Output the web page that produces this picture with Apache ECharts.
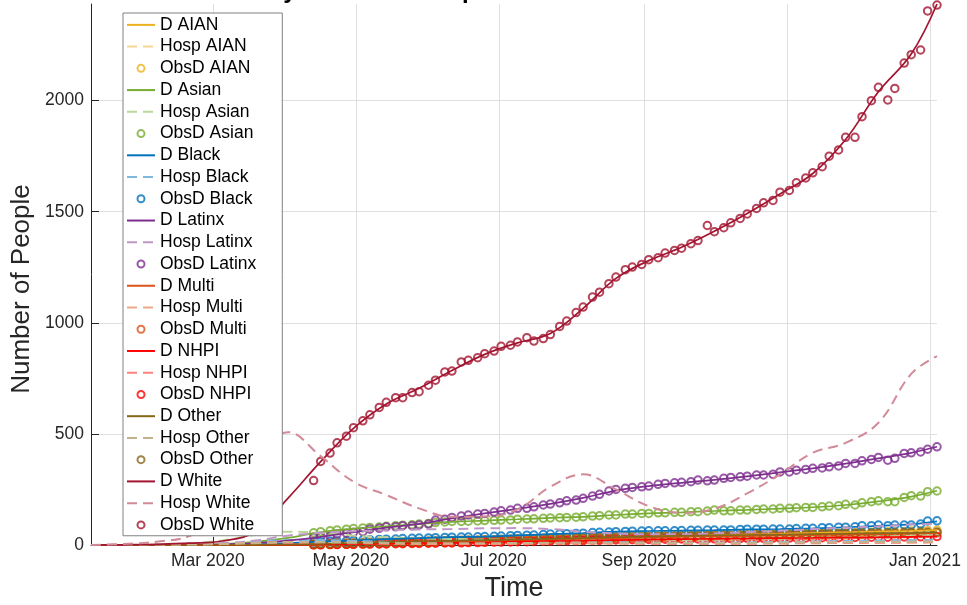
<!DOCTYPE html>
<html>
<head>
<meta charset="utf-8">
<script src="https://cdn.jsdelivr.net/npm/echarts@6/dist/echarts.min.js"></script>
<style>
  html, body { margin: 0; padding: 0; background: #ffffff; }
  #chart { width: 967px; height: 605px; }
</style>
</head>
<body>
<div id="chart"></div>
<script>
// ---- data ---------------------------------------------------------------
const groups = ['AIAN', 'Asian', 'Black', 'Latinx', 'Multi', 'NHPI', 'Other', 'White'];

// fitted-model sampling dates (D and Hosp curves)
const modelDates = [
  '2020-01-09', '2020-01-23', '2020-02-06', '2020-02-20', '2020-03-05', '2020-03-19',
  '2020-04-02', '2020-04-16', '2020-04-30', '2020-05-14', '2020-05-28', '2020-06-11',
  '2020-06-25', '2020-07-09', '2020-07-23', '2020-08-06', '2020-08-20', '2020-09-03',
  '2020-09-17', '2020-10-01', '2020-10-15', '2020-10-29', '2020-11-12', '2020-11-26',
  '2020-12-10', '2020-12-24', '2021-01-04'
];

// observed reports: twice weekly (Mon / Thu), first and number of reports
const obsFirstDate = '2020-04-13';
const obsCount = 77;

// axis ticks
const xTickDates = ['2020-03-01', '2020-05-01', '2020-07-01', '2020-09-01', '2020-11-01', '2021-01-01'];
const yTicks = [0, 500, 1000, 1500, 2000];
const xMinDate = '2020-01-09';
const xMaxDate = '2021-01-04';
const yMax = 2435;

// modelled cumulative deaths (D)
const dAIAN   = [0,0,0,0,0,1,1,2,4,7,10,13,17,21,25,29,33,37,40,44,47,50,54,57,60,63,67];
const dAsian  = [0,0,0,1,4,14,32,58,73,84,94,104,110,116,122,127,135,142,147,153,158,164,170,180,196,218,244];
const dBlack  = [0,0,0,0,1,3,8,15,20,26,31,35,38,43,49,54,60,63,65,67,70,72,75,80,86,93,106];
const dLatinx = [0,0,0,1,3,9,20,37,58,78,95,120,142,163,185,212,245,265,280,293,309,327,345,366,390,415,442];
const dMulti  = [0,0,0,0,0,1,2,3,5,8,11,14,18,21,24,27,30,33,36,38,40,42,44,46,49,52,55];
const dNHPI   = [0,0,0,0,0,0,1,2,4,6,8,10,12,15,17,19,22,24,26,28,29,31,32,34,35,37,38];
const dOther  = [0,0,0,0,0,1,2,5,9,13,16,19,22,25,28,31,35,38,41,43,45,47,49,51,53,55,58];
const dWhite  = [0,1,3,8,18,60,210,375,525,635,705,785,858,910,952,1065,1200,1280,1340,1412,1492,1580,1672,1825,2040,2210,2435];

// modelled hospitalised (Hosp)
const hAIAN   = [0,0,0,1,3,6,9,9,7,6,5,5,5,6,7,7,6,5,5,5,6,7,8,9,10,11,12];
const hAsian  = [0,1,3,8,20,45,60,55,42,35,30,27,25,25,27,28,26,24,23,24,26,28,32,35,38,42,45];
const hBlack  = [0,0,1,3,8,15,22,22,18,15,12,11,11,12,14,15,13,11,10,11,12,14,16,18,20,22,24];
const hLatinx = [0,0,1,3,8,20,42,55,62,66,70,72,75,76,72,60,52,48,48,52,58,64,72,78,84,92,96];
const hMulti  = [0,0,1,2,5,10,14,13,11,9,8,7,7,8,9,10,9,8,7,8,9,10,12,13,14,15,16];
const hNHPI   = [0,0,0,1,3,6,9,9,8,7,6,5,5,6,7,8,7,6,5,6,6,7,8,9,10,11,12];
const hOther  = [0,0,1,2,4,8,12,12,10,9,8,8,8,9,10,11,10,9,8,8,9,10,11,12,13,14,15];
const hWhite  = [0,5,15,40,130,380,508,400,285,225,165,127,128,160,262,318,250,175,145,163,232,318,415,460,550,770,850];

// observed cumulative deaths (ObsD)
const oAIAN = [1,1,2,3,3,3,4,5,6,6, 7,8,8,10,10,11,12,12,13,15, 15,16,16,18,19,19,21,22,22,24,
  25,25,27,27,28,29,31,31,32,33, 34,34,35,36,36,38,38,39,40,41, 41,42,43,43,45,45,46,47,47,49,
  49,50,52,52,53,54,55,57,57,58, 60,60,61,63,63,65,67];
const oAsian = [55,60,64,68,71,74,77,79,81,84, 87,89,91,94,97,101,104,106,106,107, 108,110,111,112,113,116,117,118,120,122,
  123,124,125,127,130,132,135,135,139,139, 142,142,145,145,147,147,150,150,153,157, 154,154,157,157,160,162,162,165,165,168,
  169,169,172,175,177,183,180,190,195,199, 195,195,214,222,220,240,243];
const oBlack = [13,15,17,18,19,20,22,24,25,26, 27,29,30,31,32,33,34,35,36,36, 37,38,39,40,42,43,44,45,47,49,
  50,51,52,53,56,57,58,60,61,62, 63,64,64,64,64,65,66,66,67,67, 67,68,70,71,71,71,72,72,72,74,
  75,75,78,78,80,80,82,87,87,90, 87,90,90,90,94,108,109];
const oLatinx = [35,37,40,49,53,57,60,71,75,82, 82,87,87,90,94,112,116,124,130,135, 139,142,148,154,157,165,165,172,180,184,
  190,199,202,210,220,228,243,250,255,259, 262,265,273,277,280,282,285,292,289,292, 300,304,307,310,315,315,318,329,329,337,
  340,345,347,352,356,367,367,379,385,394, 382,390,412,415,419,431,442];
const oMulti = [2,3,3,4,4,5,6,7,7,8, 9,9,10,11,12,13,13,14,15,16, 16,18,19,19,20,21,22,23,23,24,
  25,26,27,27,28,29,30,30,32,32, 33,33,34,35,35,36,36,37,37,38, 38,39,39,40,40,41,41,42,42,43,
  43,44,44,45,46,46,47,47,48,49, 49,50,51,52,53,54,55];
const oNHPI = [1,1,2,2,3,3,4,4,5,5, 6,6,7,7,8,8,9,9,10,11, 11,12,13,13,14,15,15,16,17,17,
  18,19,19,20,21,21,22,23,23,24, 24,25,25,26,26,27,27,27,28,28, 28,29,29,30,30,30,31,31,31,32,
  32,32,33,33,33,34,34,34,35,35, 35,36,36,36,37,37,38];
const oOther = [5,6,6,8,9,10,10,11,12,13, 14,15,16,16,18,19,19,20,21,22, 23,24,24,26,27,28,28,29,30,31,
  32,33,33,34,35,36,37,37,39,40, 40,41,41,42,42,43,43,44,44,45, 45,45,46,46,47,47,48,48,49,49,
  50,50,51,51,52,52,53,53,54,54, 55,55,56,56,57,57,58];
const oWhite = [290,376,414,460,490,528,559,586,619,642, 663,663,686,690,719,742,779,783,824,831,
  843,861,873,894,899,914,933,918,929,947, 984,1008,1046,1071,1116,1138,1176,1206,1239,1251,
  1263,1284,1293,1314,1326,1336,1356,1370,1438,1410, 1428,1450,1470,1490,1515,1540,1551,1588,1596,1630,
  1652,1675,1703,1750,1778,1835,1835,1928,2000,2060, 2003,2055,2169,2207,2228,2404,2430];

// ---- styling ------------------------------------------------------------
const groupColors = {
  AIAN: '#EDB120', Asian: '#77AC30', Black: '#0072BD', Latinx: '#7E2F8E',
  Multi: '#D95319', NHPI: '#FF0000', Other: '#866618', White: '#A2142F'
};
const seriesByGroup = {
  AIAN:   { d: dAIAN,   h: hAIAN,   o: oAIAN },
  Asian:  { d: dAsian,  h: hAsian,  o: oAsian },
  Black:  { d: dBlack,  h: hBlack,  o: oBlack },
  Latinx: { d: dLatinx, h: hLatinx, o: oLatinx },
  Multi:  { d: dMulti,  h: hMulti,  o: oMulti },
  NHPI:   { d: dNHPI,   h: hNHPI,   o: oNHPI },
  Other:  { d: dOther,  h: hOther,  o: oOther },
  White:  { d: dWhite,  h: hWhite,  o: oWhite }
};
const FONT = '"Liberation Sans", Arial, Helvetica, sans-serif';
const AXIS_COLOR = '#262626';
const GRID_COLOR = '#dfdfdf';
const DAY = 86400000;
const MONTHS = ['Jan','Feb','Mar','Apr','May','Jun','Jul','Aug','Sep','Oct','Nov','Dec'];

function ts(s) { return new Date(s + 'T00:00:00Z').getTime(); }

// half-way blend of a colour with white, used for the hospitalisation curves
function paler(hex) {
  const n = parseInt(hex.slice(1), 16);
  const r = (n >> 16) & 255, g = (n >> 8) & 255, b = n & 255;
  const m = c => Math.round((c + 255) / 2);
  return 'rgb(' + m(r) + ',' + m(g) + ',' + m(b) + ')';
}

// Mon / Thu report calendar
const obsTimes = [];
{
  let t = ts(obsFirstDate);
  for (let i = 0; i < obsCount; i++) {
    obsTimes.push(t);
    t += (i % 2 === 0 ? 3 : 4) * DAY;
  }
}
const modelTimes = modelDates.map(ts);
const xTicks = xTickDates.map(ts);

function pair(times, values) { return values.map((v, i) => [times[i], v]); }

const series = [];
const legendData = [];
groups.forEach(g => {
  const c = groupColors[g];
  const s = seriesByGroup[g];
  series.push({
    name: 'D ' + g, type: 'line', data: pair(modelTimes, s.d),
    symbol: 'none', smooth: 0.4, clip: false,
    lineStyle: { color: c, width: 1.7 }, itemStyle: { color: c }
  });
  series.push({
    name: 'Hosp ' + g, type: 'line', data: pair(modelTimes, s.h),
    symbol: 'none', smooth: 0.4, clip: false,
    lineStyle: { color: paler(c), width: 2, type: [10, 6] }, itemStyle: { color: paler(c) }
  });
  series.push({
    name: 'ObsD ' + g, type: 'scatter', data: pair(obsTimes, s.o),
    symbol: 'circle', symbolSize: 7.5, clip: false,
    itemStyle: { color: 'rgba(0,0,0,0)', borderColor: c, borderWidth: 2 }
  });
  legendData.push({ name: 'D ' + g, itemStyle: { opacity: 0 } });
  legendData.push({ name: 'Hosp ' + g, itemStyle: { opacity: 0 } });
  legendData.push({ name: 'ObsD ' + g, itemStyle: { color: 'rgba(0,0,0,0)', borderColor: c, borderWidth: 2 } });
});

const chart = echarts.init(document.getElementById('chart'), null, { renderer: 'canvas' });
chart.setOption({
  animation: false,
  backgroundColor: '#ffffff',
  title: {
    text: 'Deaths by Race and Hospitalizations',
    left: 182, top: -21, padding: 0,
    textStyle: { fontSize: 24, fontWeight: 'bold', color: '#000000', lineHeight: 24, fontFamily: FONT }
  },
  grid: { left: 91, right: 30, top: 4, bottom: 60, containLabel: false, outerBoundsMode: 'none' },
  legend: {
    orient: 'vertical', left: 123, top: 13,
    padding: [1, 26, 0, 3],
    itemWidth: 28, itemHeight: 7, itemGap: 0,
    backgroundColor: '#ffffff', borderColor: '#808080', borderWidth: 1, borderRadius: 0,
    selectedMode: false,
    textStyle: { fontSize: 17.5, color: '#000000', lineHeight: 21.74, fontFamily: FONT },
    data: legendData
  },
  xAxis: {
    // dates are carried as UTC timestamps on a linear axis
    type: 'value',
    min: ts(xMinDate), max: ts(xMaxDate),
    axisLine: { show: true, onZero: false, lineStyle: { color: AXIS_COLOR, width: 1 } },
    axisTick: { show: true, inside: true, length: 8, customValues: xTicks, lineStyle: { color: AXIS_COLOR } },
    axisLabel: {
      customValues: xTicks,
      formatter: v => { const d = new Date(v); return MONTHS[d.getUTCMonth()] + ' ' + d.getUTCFullYear(); },
      fontSize: 17.5, color: AXIS_COLOR, margin: 7, padding: [0, 10, 0, 0], fontFamily: FONT
    },
    splitLine: { show: true, lineStyle: { color: GRID_COLOR, width: 1 } },
    name: 'Time', nameLocation: 'middle', nameGap: 30,
    nameTextStyle: { fontSize: 27, color: AXIS_COLOR, fontFamily: FONT }
  },
  yAxis: {
    type: 'value', min: 0, max: yMax,
    axisLine: { show: true, lineStyle: { color: AXIS_COLOR, width: 1 } },
    axisTick: { show: true, inside: true, length: 8, customValues: yTicks, lineStyle: { color: AXIS_COLOR } },
    axisLabel: {
      customValues: yTicks, formatter: v => String(v),
      fontSize: 17.5, color: AXIS_COLOR, margin: 7, fontFamily: FONT
    },
    splitLine: { show: true, lineStyle: { color: GRID_COLOR, width: 1 } }
  },
  graphic: [{
    type: 'text', x: 22, y: 289, rotation: Math.PI / 2,
    style: { text: 'Number of People', fontSize: 26, fill: AXIS_COLOR, align: 'center', verticalAlign: 'middle', fontFamily: FONT }
  }],
  series: series
});
</script>
</body>
</html>
